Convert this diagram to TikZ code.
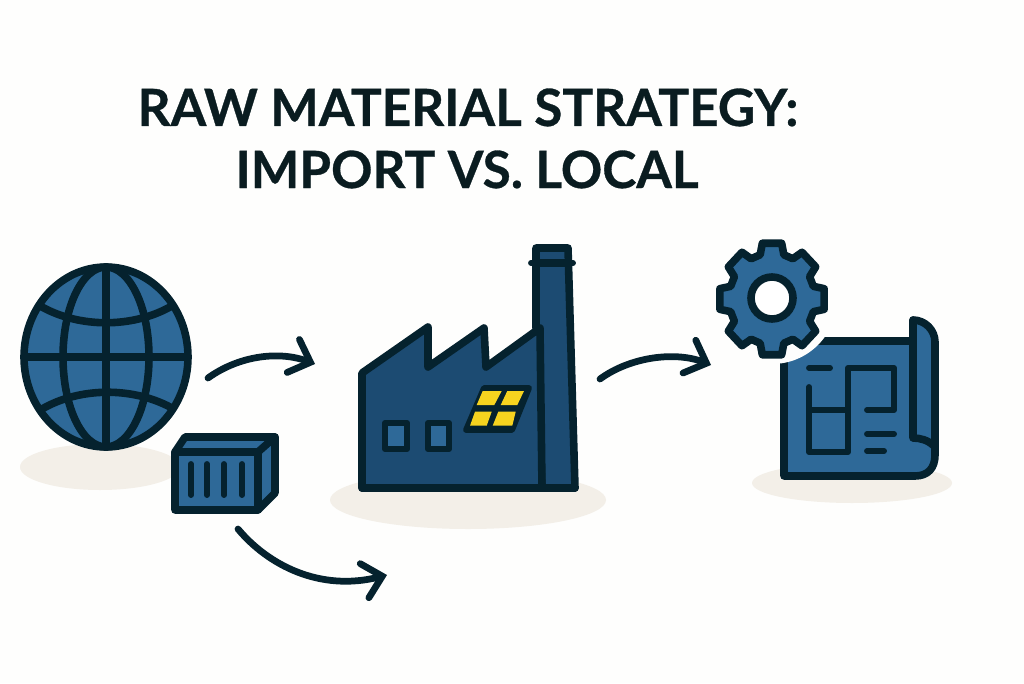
\documentclass[tikz,border=0pt]{standalone}
\usepackage{fontspec}
\setmainfont{Lato}[BoldFeatures={FakeBold=0.6}]
\usetikzlibrary{arrows.meta}
\definecolor{inkdark}{HTML}{05222E}
\definecolor{inktitle}{HTML}{0A1C20}
\definecolor{bluemid}{HTML}{2E6998}
\definecolor{bluedeep}{HTML}{1C4B72}
\definecolor{sandpale}{HTML}{F3EFE8}
\definecolor{panelyellow}{HTML}{F6D31F}
\definecolor{paperwhite}{HTML}{FEFEFD}
\tikzset{
	outline/.style={draw=inkdark, line width=5.4pt, line join=round, line cap=round},
	thinline/.style={draw=inkdark, line width=4.2pt, line join=round, line cap=round},
	flowarrow/.style={draw=inkdark, line width=4.8pt, line cap=round, -{Straight Barb[length=13pt, width=25pt, line cap=round]}},
	shadowblob/.style={fill=sandpale, draw=none},
	titletext/.style={text=inktitle, font=\bfseries\fontsize{36.5}{36.5}\selectfont, anchor=base}
}
\begin{document}
\begin{tikzpicture}[x=0.025cm, y=-0.025cm]
	\useasboundingbox (0,0) rectangle (1024,683);
	\fill[paperwhite] (0,0) rectangle (1024,683);

	%TITLE
	\node[titletext] (titleA) at (468,126) {RAW MATERIAL STRATEGY:};
	\node[titletext] (titleB) at (467,188) {IMPORT VS. LOCAL};

	%SHADOWS
	\fill[shadowblob] (100,467) ellipse [x radius=80, y radius=23];
	\fill[shadowblob] (468,500) ellipse [x radius=138, y radius=29];
	\fill[shadowblob] (852,483) ellipse [x radius=100, y radius=20];

	%GLOBE
	\filldraw[outline, fill=bluemid] (106,357) ellipse [x radius=82, y radius=90];
	\draw[outline] (106,357) ellipse [x radius=43, y radius=90];
	\draw[outline] (106,267) -- (106,447);
	\draw[outline] (24,357) -- (188,357);
	\draw[outline] (42,307) .. controls (80,328) and (132,328) .. (170,307);
	\draw[outline] (42,409) .. controls (80,387) and (132,387) .. (170,407);

	%CONTAINER
	\filldraw[outline, fill=bluemid] (175,452) -- (185,437) -- (275,437) -- (275,493) -- (258,510) -- (175,510) -- cycle;
	\draw[outline] (175,452) -- (258,452) -- (258,510);
	\draw[outline] (258,452) -- (275,437);
	\foreach \x in {191,207,224,242}{
		\draw[thinline] (\x,464) -- ++(0,31);
	}

	%FACTORY
	\filldraw[outline, fill=bluedeep] (536,327) -- (536,248) -- (568,248) -- (575,488) -- (542,488) -- cycle;
	\draw[outline] (536,263) -- (567,263);
	\draw[thinline] (531,263) -- (573,263);
	\filldraw[outline, fill=bluedeep] (362,488) -- (362,373) -- (428,327) -- (428,367) -- (484,328) -- (486,367) -- (540,328) -- (542,488) -- cycle;
	\draw[outline] (362,488) -- (575,488);
	\filldraw[thinline, fill=bluemid] (385,423) rectangle (407,449);
	\filldraw[thinline, fill=bluemid] (428,423) rectangle (449,449);
	\filldraw[thinline, fill=inkdark] (484,388) -- (529,388) -- (512,430) -- (466,430) -- cycle;
	\fill[panelyellow] (482.7,391) -- (501.7,391) -- (494.3,405) -- (476.7,405) -- cycle;
	\fill[panelyellow] (507.3,391) -- (524,391) -- (517.3,405) -- (500.7,405) -- cycle;
	\fill[panelyellow] (475,411.7) -- (491.7,411.7) -- (486.7,425.7) -- (470,425.7) -- cycle;
	\fill[panelyellow] (498.3,411.7) -- (515.7,411.7) -- (512.3,425.7) -- (492.7,425.7) -- cycle;

	%BLUEPRINT
	\filldraw[outline, fill=bluemid] (784,350) -- (784,476) -- (915,476) .. controls (928,476) and (935,468) .. (935,455) -- (935,342) .. controls (935,330) and (925,320) .. (913,320) -- (913,341) -- (784,341) -- cycle;
	\draw[outline] (913,320) -- (913,438) .. controls (920,438) and (928,440) .. (934,446);
	\draw[thinline] (809,368) -- (830,368);
	\draw[thinline] (867,410) -- (894,410) -- (894,368) -- (848,368) -- (848,452) -- (809,452) -- (809,387);
	\draw[thinline] (809,410) -- (848,410);
	\draw[thinline] (867,434) -- (894,434);
	\draw[thinline] (867,451) -- (884,451);

	%GEAR
	\fill[paperwhite] (772,299) circle [radius=65];
	\begin{scope}[shift={(772,299)}, yscale=1.07]
		\filldraw[outline, fill=bluemid] (-16:43) \foreach \a in {0,45,...,315}{
			-- (\a-16:43) -- (\a-10.5:53) -- (\a+10.5:53) -- (\a+16:43)
		} -- cycle;
	\end{scope}
	\filldraw[outline, fill=white] (772,298) circle [radius=21];

	%ARROWS
	\coordinate (globeOut) at (208,378);
	\coordinate (factoryIn) at (315,364);
	\coordinate (factoryOut) at (600,379);
	\coordinate (gearIn) at (711,365);
	\coordinate (boxOut) at (238,529);
	\coordinate (localIn) at (387,575);
	\draw[flowarrow] (globeOut) .. controls (240,355) and (280,351) .. (factoryIn);
	\draw[flowarrow] (factoryOut) .. controls (630,357) and (675,351) .. (gearIn);
	\draw[flowarrow] (boxOut) .. controls (268,565) and (320,592) .. (localIn);
\end{tikzpicture}
\end{document}
